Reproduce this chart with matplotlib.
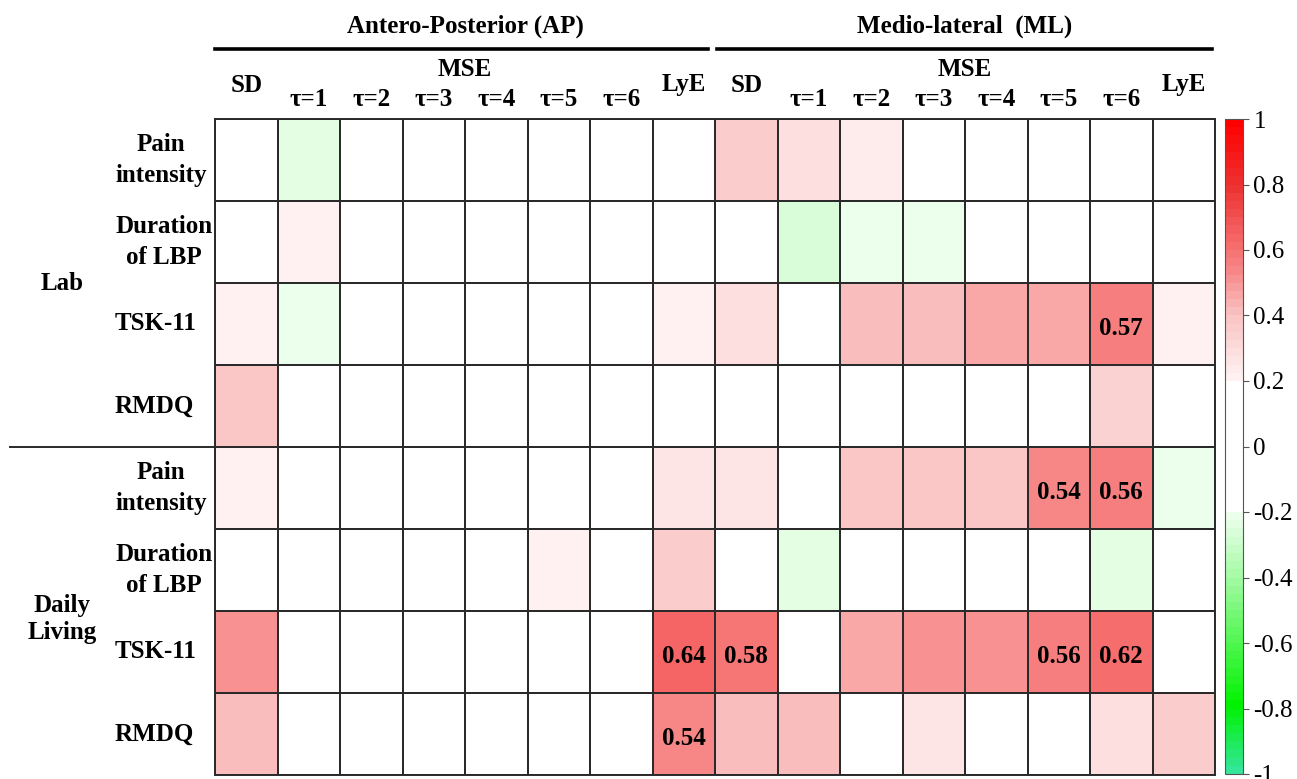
import matplotlib
matplotlib.use("Agg")
import matplotlib.pyplot as plt
import numpy as np
from matplotlib.colors import LinearSegmentedColormap, Normalize
from matplotlib.lines import Line2D
from matplotlib import transforms

plt.rcParams["font.family"] = ["Liberation Serif", "DejaVu Serif"]

measures = ["Pain\nintensity", "Duration\nof LBP", "TSK-11", "RMDQ"] * 2
groups = ["Lab", "Daily\nLiving"]
col_tops = ["SD", "LyE"]
taus = ["τ=1", "τ=2", "τ=3", "τ=4", "τ=5", "τ=6"]
directions = ["Antero-Posterior (AP)", "Medio-lateral  (ML)"]

# columns: SD, tau 1..6, LyE
ap_vals = [
    [0.00, -0.25, 0, 0, 0, 0, 0, 0.00],
    [0.00, 0.22, 0, 0, 0, 0, 0, 0.00],
    [0.22, -0.21, 0, 0, 0, 0, 0, 0.22],
    [0.38, 0.00, 0, 0, 0, 0, 0, 0.00],
    [0.22, 0.00, 0, 0, 0, 0, 0, 0.26],
    [0.00, 0.00, 0, 0, 0, 0.22, 0, 0.36],
    [0.51, 0.00, 0, 0, 0, 0, 0, 0.64],
    [0.41, 0.00, 0, 0, 0, 0, 0, 0.54],
]
ml_vals = [
    [0.35, 0.29, 0.23, 0.00, 0.00, 0.00, 0.00, 0.00],
    [0.00, -0.27, -0.21, -0.21, 0.00, 0.00, 0.00, 0.00],
    [0.29, 0.00, 0.42, 0.42, 0.45, 0.45, 0.57, 0.22],
    [0.00, 0.00, 0.00, 0.00, 0.00, 0.00, 0.34, 0.00],
    [0.26, 0.00, 0.39, 0.39, 0.38, 0.54, 0.56, -0.21],
    [0.00, -0.25, 0.00, 0.00, 0.00, 0.00, -0.25, 0.00],
    [0.58, 0.00, 0.47, 0.52, 0.51, 0.56, 0.62, 0.00],
    [0.42, 0.42, 0.00, 0.26, 0.00, 0.00, 0.29, 0.37],
]
label_min = 0.54

data = np.hstack([np.array(ap_vals), np.array(ml_vals)])
nrows, ncols = data.shape


def pos(v):
    return (v + 1) / 2


# green -> white band -> red
cmap = LinearSegmentedColormap.from_list(
    "gwr",
    [
        (pos(-1.0), (0.20, 0.90, 0.60)),
        (pos(-0.8), (0.00, 0.95, 0.00)),
        (pos(-0.4), (0.65, 0.98, 0.65)),
        (pos(-0.2), (0.95, 1.00, 0.95)),
        (pos(-0.19), (1.00, 1.00, 1.00)),
        (pos(0.19), (1.00, 1.00, 1.00)),
        (pos(0.2), (1.00, 0.96, 0.96)),
        (pos(0.4), (0.98, 0.77, 0.77)),
        (pos(0.55), (0.97, 0.52, 0.52)),
        (pos(0.65), (0.96, 0.39, 0.39)),
        (pos(0.8), (0.93, 0.20, 0.20)),
        (pos(1.0), (1.00, 0.00, 0.00)),
    ],
    N=80,
)
norm = Normalize(-1, 1)

fig = plt.figure(figsize=(12.97, 7.79), dpi=100)
ax = fig.add_axes([215 / 1297, 4 / 779, 1000 / 1297, 656 / 779])
mesh = ax.pcolormesh(np.arange(ncols + 1), np.arange(nrows + 1), data,
                     cmap=cmap, norm=norm, edgecolors="#2a2a2a", linewidth=1.4)
ax.set_xlim(0, ncols)
ax.set_ylim(nrows, 0)
ax.set_xticks([])
ax.set_yticks([])
for s in ax.spines.values():
    s.set_color("#2a2a2a")
    s.set_linewidth(1.4)

fs = 18
for i in range(nrows):
    for j in range(ncols):
        v = data[i, j]
        if v >= label_min:
            ax.text(j + 0.5, i + 0.56, f"{v:.2f}", ha="center", va="center",
                    fontsize=fs, fontweight="bold")

# column headers
top = transforms.blended_transform_factory(ax.transData, fig.transFigure)
line_span = [(0.0, 7.89), (8.03, 15.95)]
for k, name in enumerate(directions):
    x0 = k * 8
    fig.text(x0 + 4, 1 - 26 / 779, name, transform=top, ha="center", va="center",
             fontsize=fs, fontweight="bold")
    ax.add_line(Line2D(line_span[k], [1 - 49 / 779] * 2, transform=top,
                       color="black", lw=2.6, clip_on=False))
    fig.text(x0 + 0.5, 1 - 85 / 779, col_tops[0], transform=top, ha="center",
             va="center", fontsize=fs, fontweight="bold")
    fig.text(x0 + 7.5, 1 - 85 / 779, col_tops[1], transform=top, ha="center",
             va="center", fontsize=fs, fontweight="bold")
    fig.text(x0 + 4, 1 - 69 / 779, "MSE", transform=top, ha="center",
             va="center", fontsize=fs, fontweight="bold")
    for t, lab in enumerate(taus):
        fig.text(x0 + 1.5 + t, 1 - 100 / 779, lab, transform=top, ha="center",
                 va="center", fontsize=fs, fontweight="bold")

# row headers
left = transforms.blended_transform_factory(fig.transFigure, ax.transData)
for i, lab in enumerate(measures):
    fig.text(115 / 1297, i + 0.5, lab, transform=left, ha="left", va="center",
             multialignment="center", fontsize=fs, fontweight="bold",
             linespacing=1.4)
for g, lab in enumerate(groups):
    fig.text(62 / 1297, g * 4 + 2 + 0.1 * g, lab, transform=left, ha="center",
             va="center", multialignment="center", fontsize=fs,
             fontweight="bold", linespacing=1.25)
ax.add_line(Line2D([10 / 1297, 215 / 1297], [4, 4], transform=left,
                   color="#2a2a2a", lw=1.4, clip_on=False))

# colorbar
cax = fig.add_axes([1225 / 1297, 5 / 779, 18 / 1297, 655 / 779])
cb = fig.colorbar(mesh, cax=cax, ticks=np.linspace(-1, 1, 11))
cb.ax.set_yticklabels([f"{t:g}" for t in np.round(np.linspace(-1, 1, 11), 1)])
cb.ax.tick_params(labelsize=fs, length=4, width=0.8, color="#555555")
cb.outline.set_edgecolor("#555555")
cb.outline.set_linewidth(0.8)

fig.savefig("out.png", dpi=100)
